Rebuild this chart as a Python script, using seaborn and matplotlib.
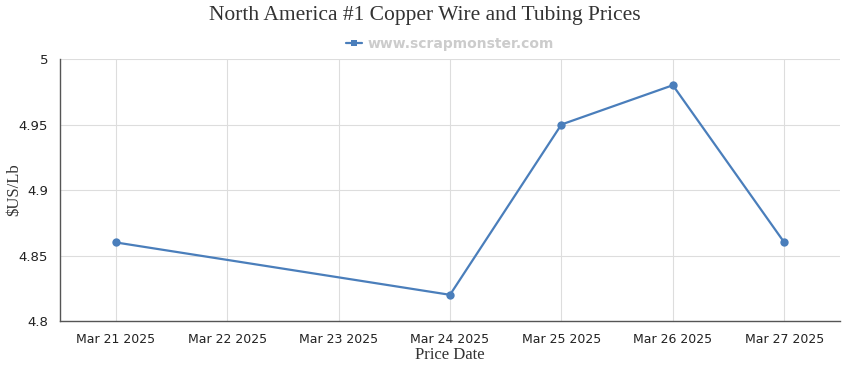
import pandas as pd
import matplotlib.pyplot as plt
import matplotlib.dates as mdates
import seaborn as sns

# Data
dates = ['2025-03-21', '2025-03-24', '2025-03-25', '2025-03-26', '2025-03-27']
prices = [4.86, 4.82, 4.95, 4.98, 4.86]
tick_dates = pd.date_range('2025-03-21', '2025-03-27', freq='D')
y_ticks = [4.8, 4.85, 4.9, 4.95, 5.0]
y_tick_labels = ['4.8', '4.85', '4.9', '4.95', '5']

df = pd.DataFrame({'date': pd.to_datetime(dates), 'price': prices})

sns.set_style('white')
plt.rcParams['font.family'] = ['DejaVu Sans']

fig = plt.figure(figsize=(8.5, 3.7), dpi=100)
ax = fig.add_axes([0.0706, 0.1324, 0.9176, 0.7081])

line_color = '#4a7ebb'
sns.lineplot(data=df, x='date', y='price', ax=ax, color=line_color, linewidth=1.6,
             marker='o', markersize=6, markeredgewidth=0, label='www.scrapmonster.com')

ax.set_xlim(tick_dates[0] - pd.Timedelta(hours=12), tick_dates[-1] + pd.Timedelta(hours=12))
ax.set_ylim(4.8, 5.0)
ax.set_xticks(tick_dates)
ax.xaxis.set_major_formatter(mdates.DateFormatter('%b %d %Y'))
ax.set_yticks(y_ticks)
ax.set_yticklabels(y_tick_labels)

ax.grid(True, color='#dddddd', linewidth=0.8)
ax.set_axisbelow(True)
for s in ['top', 'right']:
    ax.spines[s].set_visible(False)
for s in ['left', 'bottom']:
    ax.spines[s].set_color('#555555')
    ax.spines[s].set_linewidth(1)
ax.tick_params(axis='both', length=5, color='#555555', labelsize=9, labelcolor='#222222', direction='out')
ax.tick_params(axis='y', labelsize=9.5)

ax.set_xlabel('Price Date', family='Liberation Serif', fontsize=12, color='#333333', labelpad=1)
ax.set_ylabel(r'\$US/Lb', family='Liberation Serif', fontsize=12, color='#333333')
ax.yaxis.set_label_coords(-0.048, 0.5)
fig.suptitle('North America #1 Copper Wire and Tubing Prices', family='Liberation Serif',
             fontsize=15.5, color='#333333', y=0.985)

leg = ax.legend(loc='lower center', bbox_to_anchor=(0.5, 1.0), frameon=False, handlelength=1.2,
                handletextpad=0.4, borderaxespad=0.2)
for h in leg.legend_handles:
    h.set_marker('s')
    h.set_markersize(5)
for t in leg.get_texts():
    t.set_color('#cccccc')
    t.set_fontweight('bold')
    t.set_fontsize(10)

fig.savefig('out.png', dpi=100)
